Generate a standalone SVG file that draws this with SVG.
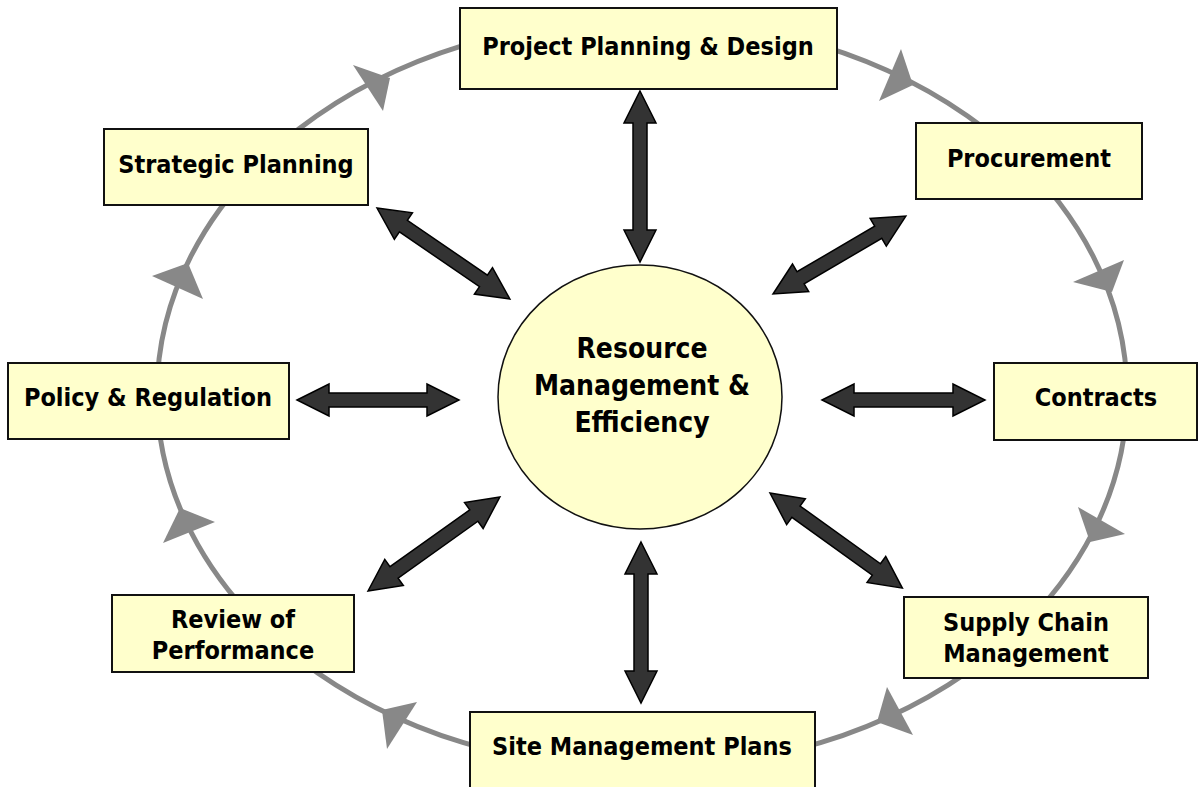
<svg xmlns="http://www.w3.org/2000/svg" width="1200" height="787" viewBox="0 0 1200 787">
<style>
.box{fill:#FFFFCC;stroke:#111;stroke-width:2}
.lbl{font-family:"DejaVu Sans Condensed","DejaVu Sans",sans-serif;font-weight:bold;font-size:25px;fill:#000;text-anchor:middle}
.clbl{font-family:"DejaVu Sans Condensed","DejaVu Sans",sans-serif;font-weight:bold;font-size:28px;fill:#000;text-anchor:middle}
.ring{fill:none;stroke:#888;stroke-width:5}
.head{fill:#888}
.dbl{fill:#333;stroke:#000;stroke-width:1.5;stroke-linejoin:miter}
</style>
<rect width="1200" height="787" fill="#fff"/>
<g id="ring">
<ellipse class="ring" cx="642" cy="394" rx="485" ry="375"/>
<polygon class="head" points="353,65 390,78 383,111"/>
<polygon class="head" points="901,49 913,85 879,101"/>
<polygon class="head" points="1073,282 1124,260 1112,292"/>
<polygon class="head" points="1078,507 1125,534 1090,542"/>
<polygon class="head" points="887,687 913,735 877,722"/>
<polygon class="head" points="417,702 382,710 387,749"/>
<polygon class="head" points="180,508 215,522 163,543"/>
<polygon class="head" points="152,276 188,263 203,299"/>
</g>
<g id="connectors">
<path class="dbl" transform="translate(640,91) rotate(90)" d="M0,0 L32,-16 L32,-7 L139,-7 L139,-16 L171,0 L139,16 L139,7 L32,7 L32,16 Z"/>
<path class="dbl" transform="translate(641,542) rotate(90)" d="M0,0 L32,-16 L32,-7 L129,-7 L129,-16 L161,0 L129,16 L129,7 L32,7 L32,16 Z"/>
<path class="dbl" transform="translate(297,400)" d="M0,0 L32,-16 L32,-7 L130,-7 L130,-16 L162,0 L130,16 L130,7 L32,7 L32,16 Z"/>
<path class="dbl" transform="translate(822,400)" d="M0,0 L32,-16 L32,-7 L131,-7 L131,-16 L163,0 L131,16 L131,7 L32,7 L32,16 Z"/>
<path class="dbl" transform="translate(377,208) rotate(34.4)" d="M0,0 L32,-16 L32,-7 L129,-7 L129,-16 L161,0 L129,16 L129,7 L32,7 L32,16 Z"/>
<path class="dbl" transform="translate(773,294) rotate(-30.4)" d="M0,0 L32,-16 L32,-7 L122,-7 L122,-16 L154,0 L122,16 L122,7 L32,7 L32,16 Z"/>
<path class="dbl" transform="translate(368,591) rotate(-35.5)" d="M0,0 L32,-16 L32,-7 L130,-7 L130,-16 L162,0 L130,16 L130,7 L32,7 L32,16 Z"/>
<path class="dbl" transform="translate(770,493) rotate(35.7)" d="M0,0 L32,-16 L32,-7 L131,-7 L131,-16 L163,0 L131,16 L131,7 L32,7 L32,16 Z"/>
</g>
<g id="center">
<ellipse cx="640" cy="397" rx="142" ry="132" fill="#FFFFCC" stroke="#111" stroke-width="1.5"/>
<text class="clbl" x="642" y="358">Resource</text>
<text class="clbl" x="642" y="395">Management &amp;</text>
<text class="clbl" x="642" y="432">Efficiency</text>
</g>
<g id="project">
<rect class="box" x="460" y="8" width="377" height="81"/>
<text class="lbl" x="648" y="55">Project Planning &amp; Design</text>
</g>
<g id="procurement">
<rect class="box" x="916" y="123" width="226" height="76"/>
<text class="lbl" x="1029" y="167">Procurement</text>
</g>
<g id="contracts">
<rect class="box" x="994" y="363" width="203" height="77"/>
<text class="lbl" x="1096" y="406">Contracts</text>
</g>
<g id="supply">
<rect class="box" x="904" y="597" width="244" height="81"/>
<text class="lbl" x="1026" y="631">Supply Chain</text>
<text class="lbl" x="1026" y="662">Management</text>
</g>
<g id="site">
<rect class="box" x="470" y="712" width="345" height="90"/>
<text class="lbl" x="642" y="755">Site Management Plans</text>
</g>
<g id="review">
<rect class="box" x="112" y="595" width="242" height="77"/>
<text class="lbl" x="233" y="628">Review of</text>
<text class="lbl" x="233" y="659">Performance</text>
</g>
<g id="policy">
<rect class="box" x="8" y="363" width="281" height="76"/>
<text class="lbl" x="148" y="406">Policy &amp; Regulation</text>
</g>
<g id="strategic">
<rect class="box" x="104" y="129" width="264" height="76"/>
<text class="lbl" x="236" y="173">Strategic Planning</text>
</g>
</svg>
